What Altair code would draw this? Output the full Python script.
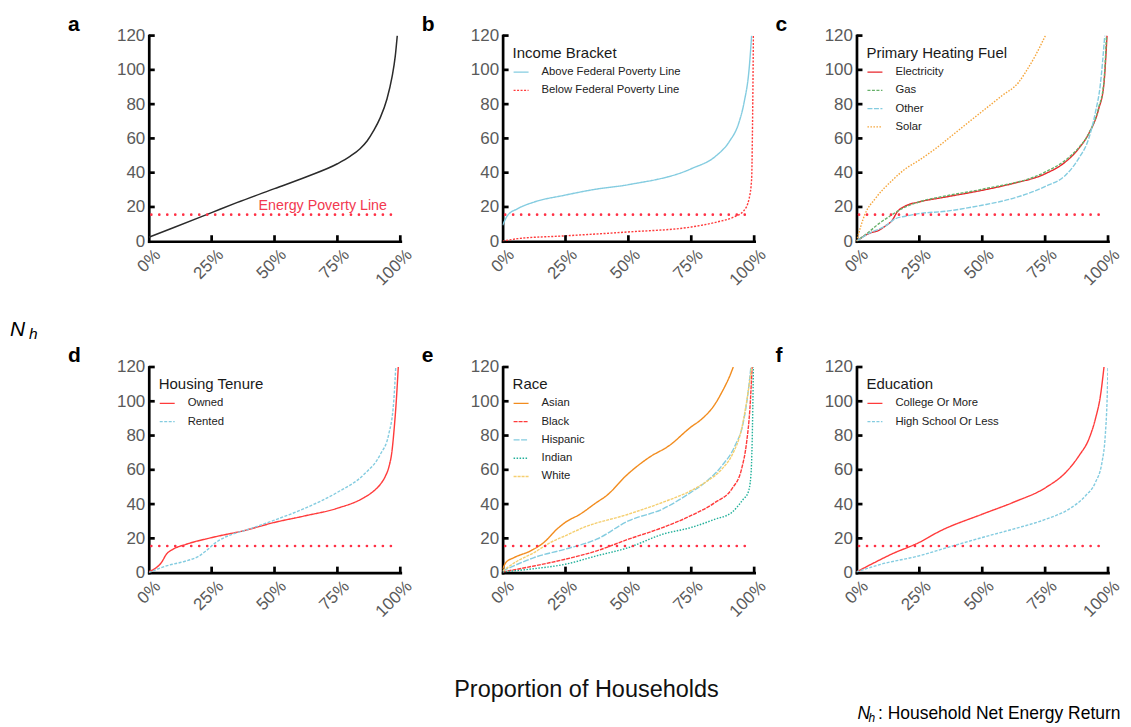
import altair as alt
import pandas as pd

FONT = "Liberation Sans"
W, H = 252, 206
RED = "#ff3b3b"
DOT_RED = "#ff3045"
BLUE = "#84cce0"

X_TICKS = [0, 0.25, 0.5, 0.75, 1.0]
Y_TICKS = [0, 20, 40, 60, 80, 100, 120]
X_TICK_MARKS = [0.25, 0.5, 0.75, 1.0]
Y_TICK_MARKS = [20, 40, 60, 80, 100, 120]
POV_X = [0.01, 0.99]
POV_Y = [15.5, 15.5]
ANNOT_TEXT = ["Energy Poverty Line"]
ANNOT_X = [0.947]
ANNOT_Y = [18.4]

# Panel a: all households
A_X = [0, 0.10, 0.25, 0.35, 0.50, 0.625, 0.75, 0.80, 0.84, 0.868, 0.894, 0.92, 0.947, 0.967, 0.98, 0.988]
A_Y = [2.3, 8.0, 16.7, 22.5, 30.7, 37.5, 45.2, 49.5, 54, 58.5, 64.5, 72, 83, 95.7, 108, 120]

# Panel b: income bracket
B_NAMES = ["Above Federal Poverty Line", "Below Federal Poverty Line"]
B_ABOVE_X = [0, 0.02, 0.06, 0.126, 0.245, 0.364, 0.50, 0.75, 0.85, 0.90, 0.94, 0.96, 0.98, 0.99]
B_ABOVE_Y = [9.3, 15.1, 19, 22.9, 26.8, 30.2, 33, 42.3, 50, 57.9, 69.5, 81, 100.6, 120]
B_BELOW_X = [0, 0.06, 0.245, 0.497, 0.75, 0.854, 0.92, 0.96, 0.98, 0.99, 0.993, 0.997]
B_BELOW_Y = [0, 1.5, 3.1, 5.4, 8.3, 11.3, 14.2, 18, 24.9, 36.5, 61.7, 120]

# Panel c: primary heating fuel
C_NAMES = ["Electricity", "Gas", "Other", "Solar"]
C_ELEC_X = [0, 0.049, 0.089, 0.115, 0.142, 0.162, 0.195, 0.248, 0.354, 0.499, 0.619, 0.751, 0.83, 0.883, 0.923, 0.963, 0.983, 0.996]
C_ELEC_Y = [0, 4.5, 6.4, 8.9, 12.2, 17.1, 20.6, 22.9, 25.8, 29.7, 33.6, 39.4, 46.2, 54, 62.7, 77.3, 90.9, 120]
C_GAS_X = [0, 0.049, 0.089, 0.128, 0.181, 0.248, 0.354, 0.499, 0.751, 0.83, 0.883, 0.923, 0.963, 0.983, 0.994]
C_GAS_Y = [0, 5.4, 10.3, 14.2, 19, 22.9, 26.4, 30.3, 40.4, 47.2, 54.5, 62.7, 78, 92, 120]
C_OTHER_X = [0, 0.049, 0.115, 0.155, 0.195, 0.248, 0.354, 0.499, 0.619, 0.751, 0.83, 0.883, 0.923, 0.95, 0.969, 0.987]
C_OTHER_Y = [0, 4.5, 8.9, 13.2, 14.6, 16.1, 17.5, 21, 24.9, 32, 38.4, 48.2, 59.8, 75.3, 90.9, 120]
C_SOLAR_X = [0, 0.033, 0.075, 0.142, 0.195, 0.248, 0.314, 0.38, 0.446, 0.513, 0.579, 0.645, 0.672, 0.711, 0.751]
C_SOLAR_Y = [0, 15.5, 24.9, 35.5, 42.3, 47.2, 54, 61.7, 69.5, 77.3, 85, 92.8, 98.6, 108.3, 120]

# Panel d: housing tenure
D_NAMES = ["Owned", "Rented"]
D_OWN_X = [0, 0.03, 0.05, 0.07, 0.096, 0.148, 0.249, 0.384, 0.497, 0.62, 0.748, 0.856, 0.895, 0.921, 0.941, 0.954, 0.967, 0.976, 0.984, 0.992]
D_OWN_Y = [0.6, 2.9, 5.8, 10.7, 13.6, 16.5, 20.4, 24.7, 29.2, 33.1, 37.5, 43.8, 47.7, 51.6, 56.4, 61.3, 71, 84.6, 100, 120]
D_RENT_X = [0, 0.07, 0.148, 0.20, 0.227, 0.266, 0.332, 0.384, 0.497, 0.62, 0.748, 0.856, 0.921, 0.954, 0.974, 0.982]
D_RENT_Y = [0, 3.9, 6.8, 9.7, 12.6, 17.5, 22.4, 24.7, 30.5, 37.5, 46.7, 57.4, 69.1, 80.7, 100.2, 120]

# Panel e: race
E_NAMES = ["Asian", "Black", "Hispanic", "Indian", "White"]
E_ASIAN_X = [0, 0.013, 0.046, 0.111, 0.164, 0.216, 0.249, 0.308, 0.374, 0.413, 0.491, 0.583, 0.662, 0.748, 0.793, 0.845, 0.872, 0.904, 0.917]
E_ASIAN_Y = [2, 5.9, 8.8, 12.7, 17.6, 25.4, 29.3, 34.1, 41, 44.9, 56.6, 67.3, 74.1, 84.9, 89.8, 98.5, 105.4, 115.1, 120]
E_BLACK_X = [0, 0.125, 0.249, 0.374, 0.50, 0.636, 0.748, 0.845, 0.911, 0.95, 0.97, 0.983, 0.992]
E_BLACK_Y = [0.4, 3.9, 7.8, 12.7, 19.5, 26.3, 33.2, 41, 48.8, 60.5, 76.1, 95.6, 120]
E_HISP_X = [0, 0.059, 0.125, 0.249, 0.374, 0.50, 0.636, 0.748, 0.806, 0.872, 0.924, 0.957, 0.976, 0.987]
E_HISP_Y = [1, 4.9, 8.8, 13.7, 19.5, 30.2, 37.1, 46.8, 52.7, 62.4, 74.1, 87.8, 105.4, 120]
E_IND_X = [0, 0.125, 0.249, 0.374, 0.50, 0.636, 0.748, 0.845, 0.911, 0.957, 0.976, 0.987, 0.992, 0.997]
E_IND_Y = [0.4, 2.3, 4.9, 9.8, 14.6, 22.4, 26.3, 31.2, 35.1, 42.9, 46.8, 56.6, 76.1, 120]
E_WHITE_X = [0, 0.059, 0.125, 0.19, 0.249, 0.321, 0.50, 0.636, 0.748, 0.806, 0.872, 0.911, 0.95, 0.976, 0.99]
E_WHITE_Y = [1, 6.8, 11.7, 17.6, 21.5, 26.3, 34.1, 41, 47.8, 52.7, 60.5, 68.3, 83.9, 105.4, 120]

# Panel f: education
F_NAMES = ["College Or More", "High School Or Less"]
F_COL_X = [0, 0.072, 0.138, 0.249, 0.334, 0.50, 0.623, 0.754, 0.832, 0.885, 0.924, 0.95, 0.97, 0.984]
F_COL_Y = [0.4, 5.9, 10.7, 17.6, 24.4, 34.1, 41, 49.8, 58.5, 68.3, 78, 89.8, 103.4, 120]
F_HS_X = [0, 0.098, 0.249, 0.36, 0.50, 0.623, 0.754, 0.845, 0.911, 0.95, 0.976, 0.989, 0.996, 1.0]
F_HS_Y = [0.4, 4.9, 9.8, 14.6, 20.5, 25.4, 31.2, 37.1, 44.9, 52.7, 64.4, 80, 99.5, 120]


def series_df(names, xs_list, ys_list):
    rows = []
    for n, xs, ys in zip(names, xs_list, ys_list):
        for x, y in zip(xs, ys):
            rows.append({"s": n, "p": x, "v": y})
    return pd.DataFrame(rows)


XS = alt.Scale(domain=[0, 1], nice=False, zero=False)
YS = alt.Scale(domain=[0, 120], nice=False)
XAX = alt.Axis(values=X_TICKS, format=".0%", labelAngle=-45, title=None, ticks=False,
               tickSize=0, labelPadding=5, labelOffset=3, domainWidth=2.7, domainColor="black",
               domainCap="square", labelFont=FONT, labelFontSize=17, labelColor="#5a5a5a",
               grid=False, labelFlush=False, labelOverlap=False)
YAX = alt.Axis(values=Y_TICKS, title=None, ticks=False, tickSize=0, labelPadding=4,
               domainWidth=2.7, domainColor="black", domainCap="square", labelFont=FONT,
               labelFontSize=17, labelColor="#5a5a5a", grid=False, labelFlush=False,
               labelOverlap=False)


def text_layer(txt, x, y, size, italic=False, bold=False, align="left", color="black"):
    return alt.Chart(pd.DataFrame({"t": [txt]})).mark_text(
        font=FONT, fontSize=size, fontStyle="italic" if italic else "normal",
        fontWeight="bold" if bold else "normal", align=align, baseline="alphabetic",
        color=color).encode(x=alt.value(x), y=alt.value(y), text="t:N")


def panel(letter, df, legend_title=None, names=None, colors=None, dashes=None, extra=None):
    xenc = alt.X("p:Q", scale=XS, axis=XAX)
    yenc = alt.Y("v:Q", scale=YS, axis=YAX)
    if legend_title:
        leg = alt.Legend(title=legend_title, orient="none", legendX=10, legendY=10,
                         titleFont=FONT, titleFontSize=15, titleFontWeight="normal",
                         titleColor="#1a1a1a", titlePadding=3, labelFont=FONT,
                         labelFontSize=11.3, labelColor="#222222", symbolType="stroke",
                         symbolSize=225, symbolStrokeWidth=1.3, labelOffset=12,
                         rowPadding=4.3, padding=0)
        lines = alt.Chart(df).mark_line(strokeWidth=1.4, interpolate="monotone", clip=True).encode(
            x=xenc, y=yenc,
            color=alt.Color("s:N", scale=alt.Scale(domain=names, range=colors), legend=leg),
            strokeDash=alt.StrokeDash("s:N", scale=alt.Scale(domain=names, range=dashes), legend=leg),
        )
    else:
        lines = alt.Chart(df).mark_line(strokeWidth=1.5, color="#2b2b2b", interpolate="monotone",
                                        clip=True).encode(x=xenc, y=yenc)
    pov = alt.Chart(pd.DataFrame({"p": POV_X, "v": POV_Y})).mark_line(
        color=DOT_RED, strokeWidth=2.6, strokeDash=[0.1, 7.9], strokeCap="round").encode(x=xenc, y=yenc)
    xt = alt.Chart(pd.DataFrame({"p": X_TICK_MARKS})).mark_rule(color="black", strokeWidth=2.7).encode(
        x=xenc, y=alt.value(H), y2=alt.value(H - 6))
    yt = alt.Chart(pd.DataFrame({"v": Y_TICK_MARKS})).mark_rule(color="black", strokeWidth=2.7).encode(
        y=yenc, x=alt.value(0), x2=alt.value(6))
    lt = text_layer(letter, -81, -5, 21, bold=True)
    layers = [lines, pov, xt, yt, lt] + (extra or [])
    return alt.layer(*layers).properties(width=W, height=H)


annot = alt.Chart(pd.DataFrame({"t": ANNOT_TEXT, "p": ANNOT_X, "v": ANNOT_Y})).mark_text(
    font=FONT, fontSize=14.3, color="#f2384f", align="right", baseline="alphabetic").encode(
    x=alt.X("p:Q", scale=XS, axis=XAX), y=alt.Y("v:Q", scale=YS, axis=YAX), text="t:N")

pa = panel("a", pd.DataFrame({"p": A_X, "v": A_Y}), extra=[annot])
pb = panel("b", series_df(B_NAMES, [B_ABOVE_X, B_BELOW_X], [B_ABOVE_Y, B_BELOW_Y]),
           "Income Bracket", B_NAMES, [BLUE, RED], [[1, 0], [2, 1.5]])
pc = panel("c", series_df(C_NAMES, [C_ELEC_X, C_GAS_X, C_OTHER_X, C_SOLAR_X],
                          [C_ELEC_Y, C_GAS_Y, C_OTHER_Y, C_SOLAR_Y]),
           "Primary Heating Fuel", C_NAMES, ["#e8252b", "#66b069", BLUE, "#f5a53a"],
           [[1, 0], [3, 1.5], [5, 1.5], [1.5, 1.5]])
pd_ = panel("d", series_df(D_NAMES, [D_OWN_X, D_RENT_X], [D_OWN_Y, D_RENT_Y]),
            "Housing Tenure", D_NAMES, [RED, BLUE], [[1, 0], [3, 1.5]],
            extra=[text_layer("N", -139, -31, 21, italic=True),
                   text_layer("h", -120, -28, 15.5, italic=True)])
pe = panel("e", series_df(E_NAMES, [E_ASIAN_X, E_BLACK_X, E_HISP_X, E_IND_X, E_WHITE_X],
                          [E_ASIAN_Y, E_BLACK_Y, E_HISP_Y, E_IND_Y, E_WHITE_Y]),
           "Race", E_NAMES, ["#f28c1e", RED, BLUE, "#22b09a", "#f5cf70"],
           [[1, 0], [4, 1], [6, 1.5], [1.5, 1.5], [3, 1]],
           extra=[text_layer("Proportion of Households", 84, 330.7, 23.5, align="center",
                             color="#111111")])
pf = panel("f", series_df(F_NAMES, [F_COL_X, F_HS_X], [F_COL_Y, F_HS_Y]),
           "Education", F_NAMES, [RED, BLUE], [[1, 0], [3, 1.5]],
           extra=[text_layer("N", 1, 353, 17.5, italic=True),
                  text_layer("h", 12, 355.5, 12, italic=True),
                  text_layer(": Household Net Energy Return", 21.5, 353, 17.5)])

chart = alt.concat(pa, pb, pc, pd_, pe, pf, columns=3,
                   spacing={"row": 126, "column": 102.5}, bounds="flush").resolve_scale(
    color="independent", strokeDash="independent").properties(
    padding={"left": 2, "top": 5, "right": 0, "bottom": 0}).configure_view(stroke=None)

chart.save("out.html", embed_options={"renderer": "svg", "actions": False})
